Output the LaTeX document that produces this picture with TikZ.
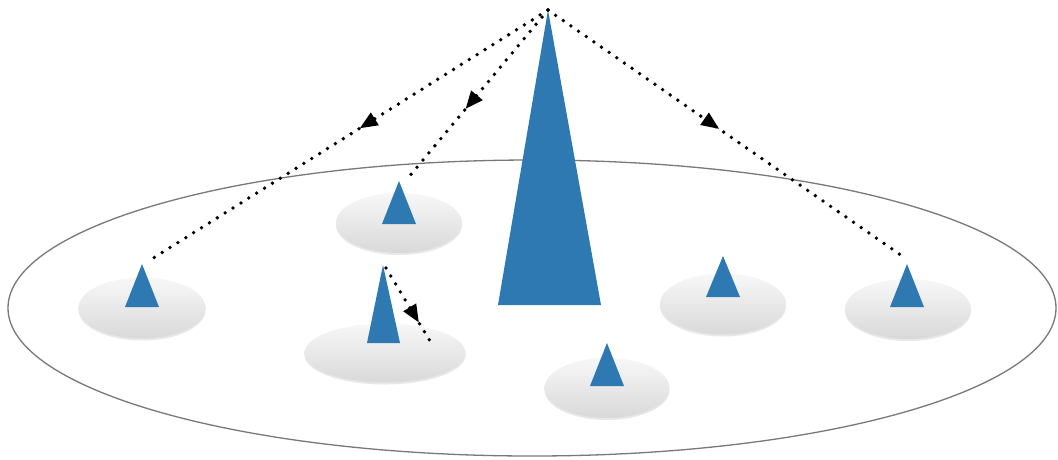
\documentclass[tikz,border=0pt]{standalone}
\usetikzlibrary{shapes.geometric,shadows,decorations.markings,arrows.meta}
\definecolor{coneblue}{RGB}{46,121,178}
\definecolor{rimgray}{RGB}{120,120,120}
\tikzset{
  field/.style={draw=rimgray, line width=1.3pt, ellipse, inner sep=0pt},
  disc/.style={ellipse, inner sep=0pt, top color=gray!6, bottom color=gray!30,
    drop shadow={opacity=0.18, shadow xshift=0pt, shadow yshift=-2pt}},
  cone/.style={fill=coneblue},
  ray/.style={line width=3.8pt, dash pattern=on 0pt off 9.3pt, line cap=round,
    postaction={decorate},
    decoration={markings, mark=at position #1 with {\arrow{Triangle[length=18pt,width=14pt]}}}}
}
\begin{document}
\begin{tikzpicture}[x=1pt,y=-1pt]
\useasboundingbox (0,0) rectangle (1058,459);
\node[field, minimum width=1048pt, minimum height=296pt] (fld) at (532,308) {};
% discs
\node[disc, minimum width=127pt, minimum height=61pt] (d1) at (142,308) {};
\node[disc, minimum width=126pt, minimum height=60pt] (d2) at (399,223) {};
\node[disc, minimum width=161pt, minimum height=59pt] (d3) at (385,353) {};
\node[disc, minimum width=125pt, minimum height=60pt] (d4) at (607,388) {};
\node[disc, minimum width=126pt, minimum height=61pt] (d5) at (723,304) {};
\node[disc, minimum width=126pt, minimum height=60pt] (d6) at (908,309) {};
% cones
\coordinate (top) at (548,10);
\fill[cone] (top) -- (601,305) -- (498,305) -- cycle;
\coordinate (a1) at (142,264);
\fill[cone] (a1) -- (159,307) -- (125,307) -- cycle;
\coordinate (a2) at (399,181);
\fill[cone] (a2) -- (416,224) -- (382,224) -- cycle;
\coordinate (a3) at (383,265);
\fill[cone] (a3) -- (400,343) -- (367,343) -- cycle;
\coordinate (a4) at (607,343);
\fill[cone] (a4) -- (624,386) -- (590,386) -- cycle;
\coordinate (a5) at (723,256);
\fill[cone] (a5) -- (740,297) -- (706,297) -- cycle;
\coordinate (a6) at (907,264);
\fill[cone] (a6) -- (924,307) -- (890,307) -- cycle;
% rays
\coordinate (e1) at (147,262);
\coordinate (e2) at (408,178);
\coordinate (e6) at (905,258);
\coordinate (s3) at (386,268);
\coordinate (e3) at (430,341);
\draw[ray=0.47] (top) -- (e1);
\draw[ray=0.59] (top) -- (e2);
\draw[ray=0.48] (top) -- (e6);
\draw[ray=0.75] (s3) -- (e3);
\end{tikzpicture}
\end{document}
